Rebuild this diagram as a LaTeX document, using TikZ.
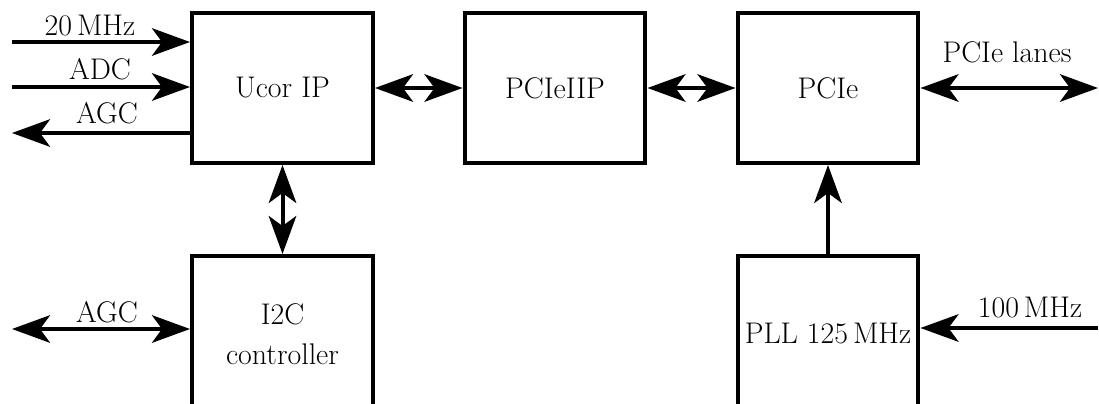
\documentclass[tikz,border=0pt]{standalone}
\usepackage{tikz}
\usetikzlibrary{arrows.meta, calc}

\tikzset{
  block/.style={draw, black, line width=0.08cm, minimum width=3.62cm,
    minimum height=3cm, align=center, inner sep=1pt},
  sig/.style={line width=0.08cm, -{Stealth[length=0.76cm, width=0.55cm, inset=0.2cm]}},
  dsig/.style={line width=0.08cm, {Stealth[length=0.76cm, width=0.55cm, inset=0.2cm]}-{Stealth[length=0.76cm, width=0.55cm, inset=0.2cm]}},
}

\begin{document}
\begin{tikzpicture}[x=0.02cm, y=-0.02cm, font=\fontsize{17}{23}\selectfont]
\useasboundingbox (0,0) rectangle (1099,403);
%the blocks
\node [block] (ucor) at (282.5,88) {Ucor IP};
\node [block] (pcieiip) at (555,88) {PCIeIIP};
\node [block] (pcie) at (828,88) {PCIe};
\node [block, anchor=north, minimum height=3.12cm] (itwoc) at (282.5,254) {I2C\\controller};
\node [block, anchor=north, minimum height=3.12cm] (pll) at (828,254) {PLL\ 125\,MHz};

%free ends of the signals
\coordinate (in20) at (12,42);
\coordinate (inadc) at (12,87);
\coordinate (outagc) at (12,133);
\coordinate (agcbus) at (12,329);
\coordinate (lanes) at (1098,88);
\coordinate (in100) at (1098,328);

%the signals
\draw [sig] (in20) -- (in20 -| ucor.west);
\node (l20) at (90,26) {20\,MHz};
\draw [sig] (inadc) -- (inadc -| ucor.west);
\node (ladc) at (100,69) {ADC};
\draw [sig] (outagc -| ucor.west) -- (outagc);
\node (lagc) at (107,113) {AGC};
\draw [dsig] (agcbus) -- (agcbus -| itwoc.west);
\node (lagcbus) at (107,312) {AGC};
\draw [dsig] (pcie.east) -- (lanes);
\node (llanes) at (1007,52) {PCIe lanes};
\draw [sig] (in100) -- (in100 -| pll.east);
\node (l100) at (1030,308) {100\,MHz};

%between the blocks
\draw [dsig] (ucor.east) -- (pcieiip.west);
\draw [dsig] (pcieiip.east) -- (pcie.west);
\draw [dsig] (ucor.south) -- (itwoc.north);
\draw [sig] (pll.north) -- (pcie.south);
\end{tikzpicture}
\end{document}
